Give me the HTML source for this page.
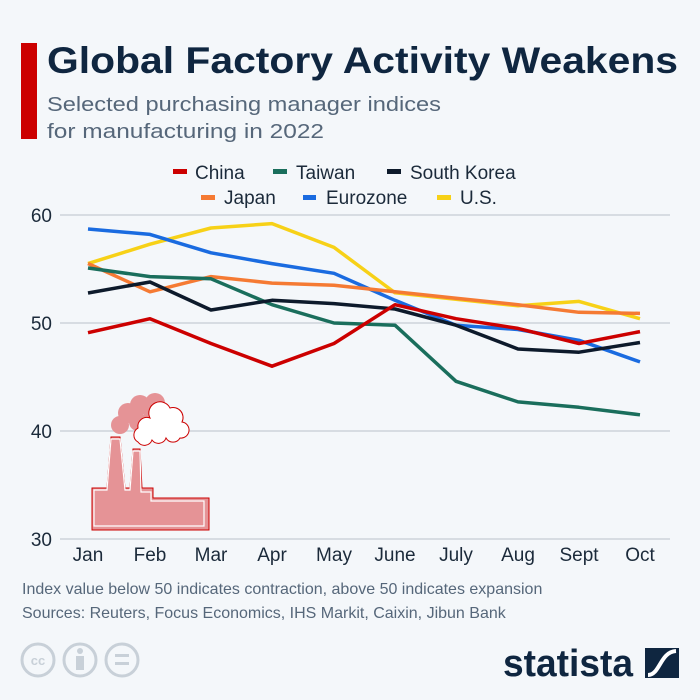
<!DOCTYPE html>
<html><head><meta charset="utf-8"><style>
html,body{margin:0;padding:0;background:#f4f7fa}
svg{display:block;font-family:"Liberation Sans",sans-serif}
</style></head><body>
<svg width="700" height="700" viewBox="0 0 700 700" xmlns="http://www.w3.org/2000/svg">
<rect width="700" height="700" fill="#f4f7fa"/>
<rect x="21" y="43" width="16" height="96" fill="#cc0000"/>
<text x="47" y="73" font-size="37" font-weight="bold" fill="#0f2640" textLength="631" lengthAdjust="spacingAndGlyphs">Global Factory Activity Weakens</text>
<text x="47" y="111" font-size="20" fill="#56677a" textLength="394" lengthAdjust="spacingAndGlyphs">Selected purchasing manager indices</text>
<text x="47" y="138" font-size="20" fill="#56677a" textLength="277" lengthAdjust="spacingAndGlyphs">for manufacturing in 2022</text>
<g font-size="19" fill="#1b2a3a">
<rect x="173" y="169" width="14" height="5" fill="#cc0000"/><text x="195" y="179">China</text>
<rect x="273" y="169" width="14" height="5" fill="#1a6e5c"/><text x="296" y="179">Taiwan</text>
<rect x="387" y="169" width="14" height="5" fill="#0d1a2b"/><text x="410" y="179">South Korea</text>
<rect x="201" y="195" width="14" height="5" fill="#f57a33"/><text x="224" y="204">Japan</text>
<rect x="303" y="195" width="13" height="5" fill="#1a6be0"/><text x="326" y="204">Eurozone</text>
<rect x="437" y="195" width="14" height="5" fill="#f7d117"/><text x="460" y="204">U.S.</text>
</g>
<g stroke="#c5ccd4" stroke-width="1.3">
<line x1="60" y1="215" x2="670" y2="215"/><line x1="60" y1="323" x2="670" y2="323"/>
<line x1="60" y1="431" x2="670" y2="431"/><line x1="60" y1="539" x2="670" y2="539"/>
</g>
<g font-size="19" fill="#1b2a3a" text-anchor="end">
<text x="52" y="222">60</text><text x="52" y="330">50</text><text x="52" y="438">40</text><text x="52" y="546">30</text>
</g>
<g font-size="19" fill="#1b2a3a" text-anchor="middle">
<text x="88" y="561">Jan</text><text x="150" y="561">Feb</text><text x="211" y="561">Mar</text><text x="272" y="561">Apr</text><text x="334" y="561">May</text><text x="395" y="561">June</text><text x="456" y="561">July</text><text x="518" y="561">Aug</text><text x="579" y="561">Sept</text><text x="640" y="561">Oct</text>
</g>
<g>
<path d="M92,488 L107,488 L111,437 L120,437 L125,488 L130,488 L133,449 L140,449 L142,488 L153,488 L153,498 L209,498 L209,530 L92,530 Z" fill="#e59396" stroke="#cc0000" stroke-width="1"/>
<path d="M94,490 L107,490 L111,439 L120,439 L125,490 L130,490 L133,451 L140,451 L141,492 L151,492 L151,501 L204,501 L204,526 L94,526 Z" fill="none" stroke="#fff" stroke-width="1.2"/>
<g fill="#e59396"><circle cx="120" cy="425" r="9"/><circle cx="128" cy="413" r="10"/><circle cx="140" cy="405" r="10"/><circle cx="155" cy="403" r="10"/><circle cx="153" cy="418" r="10"/><circle cx="138" cy="422" r="9"/></g>
<g fill="#fff" stroke="#cc0000" stroke-width="1"><path d="M138,442 a8,8 0 0 1 0,-14 a9,9 0 0 1 12,-10 a11,11 0 0 1 20,-10 a10,10 0 0 1 12,14 a8,8 0 0 1 -2,16 a8,8 0 0 1 -14,0 a8,8 0 0 1 -14,2 a8,8 0 0 1 -14,2 Z"/></g>
</g>
<g fill="none" stroke-width="3.5" stroke-linejoin="round">
<polyline stroke="#f7d117" points="88,263.6 150,244.2 211,228.0 272,223.6 334,247.4 395,292.8 456,299.3 518,305.8 579,301.4 640,318.7"/>
<polyline stroke="#1a6be0" points="88,229.0 150,234.4 211,252.8 272,263.6 334,273.3 395,300.3 456,325.2 518,329.5 579,340.3 640,361.9"/>
<polyline stroke="#f57a33" points="88,263.5 150,291.8 211,276.6 272,283.1 334,285.3 395,291.8 456,298.2 518,304.7 579,312.3 640,313.4"/>
<polyline stroke="#1a6e5c" points="88,268.0 150,276.6 211,278.8 272,304.7 334,323.0 395,325.2 456,381.3 518,401.9 579,407.3 640,414.8"/>
<polyline stroke="#0d1a2b" points="88,293.0 150,282.0 211,310.0 272,300.3 334,303.6 395,309.0 456,325.2 518,349.0 579,352.2 640,342.5"/>
<polyline stroke="#cc0000" points="88,332.7 150,318.7 211,343.5 272,366.2 334,343.5 395,304.7 456,318.7 518,328.4 579,343.5 640,331.6"/>
</g>
<g font-size="16" fill="#56677a">
<text x="22" y="594">Index value below 50 indicates contraction, above 50 indicates expansion</text>
<text x="22" y="618">Sources: Reuters, Focus Economics, IHS Markit, Caixin, Jibun Bank</text>
</g>
<g fill="none" stroke="#c8d0d8" stroke-width="3">
<circle cx="38" cy="660" r="16"/><circle cx="80" cy="660" r="16"/><circle cx="122" cy="660" r="16"/>
</g>
<text x="38" y="665" font-size="13" font-weight="bold" fill="#c8d0d8" text-anchor="middle">cc</text>
<circle cx="80" cy="651" r="3" fill="#c8d0d8"/><rect x="76" y="656" width="8" height="14" fill="#c8d0d8"/>
<rect x="115" y="654" width="14" height="3" fill="#c8d0d8"/><rect x="115" y="662" width="14" height="3" fill="#c8d0d8"/>
<text x="503" y="676" font-size="38" font-weight="bold" fill="#0f2640" textLength="130" lengthAdjust="spacingAndGlyphs">statista</text>
<rect x="645" y="648" width="34" height="30" fill="#0f2640"/>
<path d="M648,675 C660,675 660,652 676,651" stroke="#fff" stroke-width="4" fill="none"/>
</svg>
</body></html>
